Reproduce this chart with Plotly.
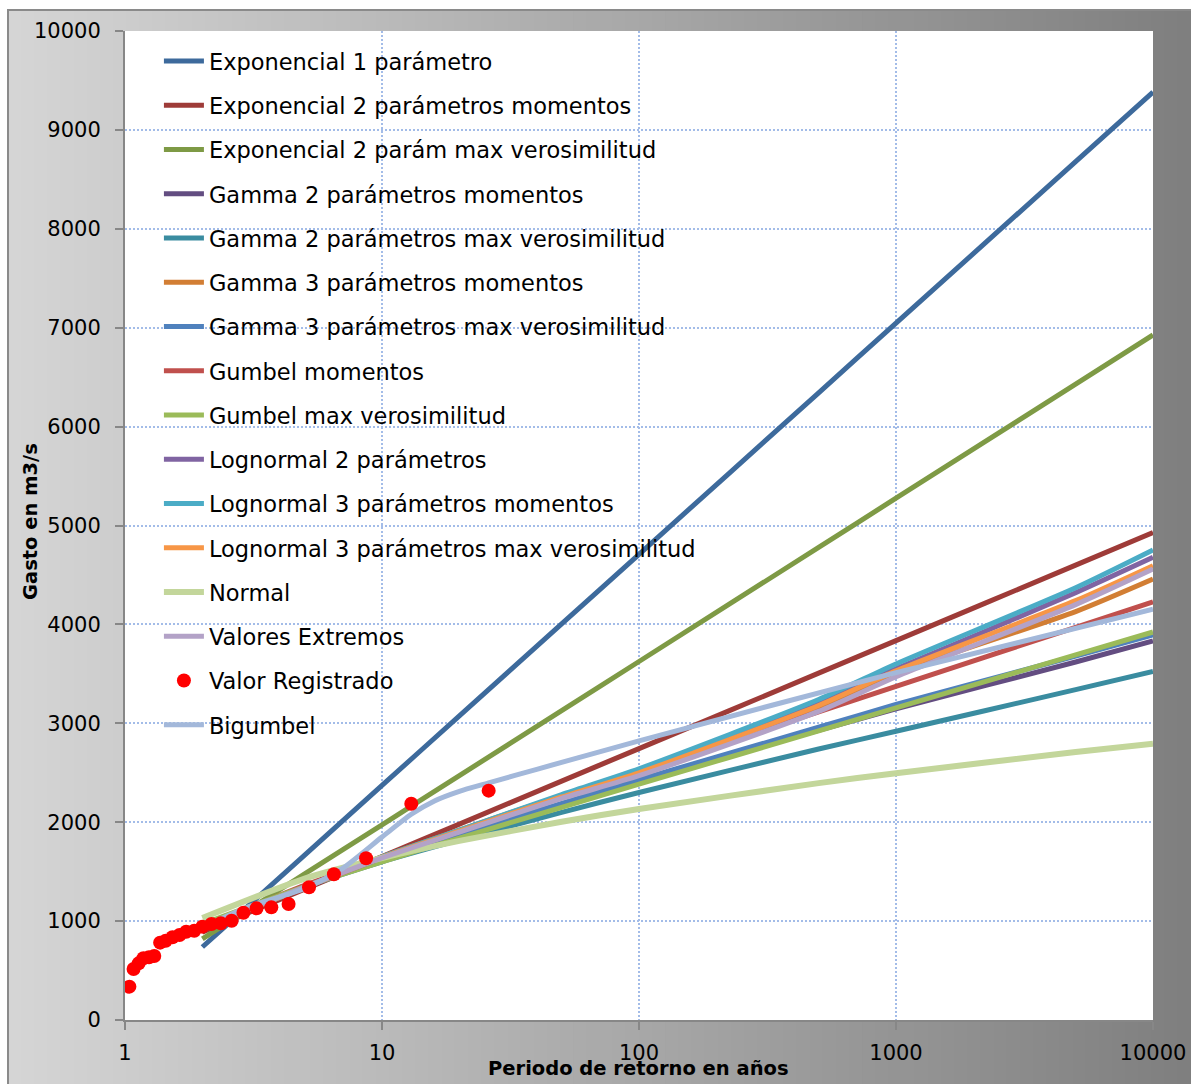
import plotly.graph_objects as go

# ---------------- data ----------------
T = [2, 5, 10, 20, 50, 100, 500, 1000, 5000, 10000]

exp1 = [738, 1668, 2372, 3075, 4005, 4709, 6342, 7046, 8679, 9383]
exp2_mom = [889, 1323, 1652, 1981, 2415, 2744, 3507, 3836, 4599, 4928]
exp2_mv = [820, 1477, 1974, 2471, 3128, 3625, 4779, 5276, 6430, 6927]
gam2_mom = [950, 1350, 1620, 1865, 2180, 2420, 2930, 3145, 3620, 3832]
gam2_mv = [955, 1345, 1600, 1820, 2100, 2300, 2740, 2920, 3340, 3524]
gam3_mom = [930, 1345, 1650, 1920, 2270, 2520, 3160, 3510, 4130, 4459]
gam3_mv = [945, 1350, 1625, 1870, 2190, 2430, 2960, 3190, 3680, 3893]
gum_mom = [939, 1361, 1640, 1908, 2255, 2515, 3115, 3373, 3971, 4229]
gum_mv = [971, 1350, 1600, 1840, 2151, 2385, 2923, 3155, 3692, 3923]
logn2 = [930, 1340, 1640, 1905, 2250, 2510, 3220, 3550, 4320, 4678]
logn3_mom = [925, 1340, 1650, 1920, 2280, 2540, 3240, 3600, 4370, 4752]
logn3_mv = [930, 1340, 1645, 1910, 2255, 2500, 3180, 3530, 4240, 4594]
normal = [1031, 1430, 1638, 1811, 2004, 2134, 2395, 2496, 2709, 2794]
val_ext = [935, 1345, 1640, 1900, 2240, 2470, 3120, 3470, 4200, 4560]

T_big = [2, 3, 5, 7, 10, 13, 16, 20, 26, 40, 100, 1000, 10000]
bigumbel = [940, 1140, 1330, 1530, 1850, 2080, 2215, 2312, 2397, 2535, 2822, 3512, 4153]

T_obs = [26, 13, 8.67, 6.5, 5.2, 4.33, 3.71, 3.25, 2.89, 2.6, 2.36, 2.17, 2.0,
         1.86, 1.73, 1.63, 1.53, 1.44, 1.37, 1.3, 1.24, 1.18, 1.13, 1.08, 1.04]
Q_obs = [2319, 2187, 1635, 1473, 1342, 1173, 1139, 1129, 1085, 1004, 978, 971, 944,
         903, 893, 859, 836, 802, 782, 647, 634, 624, 573, 516, 337]

x_ticks = [1, 10, 100, 1000, 10000]
x_ticktext = ["1", "10", "100", "1000", "10000"]

series = [
    ("Exponencial 1 parámetro", exp1, "#3D6A9C"),
    ("Exponencial 2 parámetros momentos", exp2_mom, "#9E3B38"),
    ("Exponencial 2 parám max verosimilitud", exp2_mv, "#7E9A45"),
    ("Gamma 2 parámetros momentos", gam2_mom, "#634D81"),
    ("Gamma 2 parámetros max verosimilitud", gam2_mv, "#3A8CA0"),
    ("Gamma 3 parámetros momentos", gam3_mom, "#D27E34"),
    ("Gamma 3 parámetros max verosimilitud", gam3_mv, "#4F81BD"),
    ("Gumbel momentos", gum_mom, "#C0504D"),
    ("Gumbel max verosimilitud", gum_mv, "#9BBB59"),
    ("Lognormal 2 parámetros", logn2, "#8064A2"),
    ("Lognormal 3 parámetros momentos", logn3_mom, "#4BACC6"),
    ("Lognormal 3 parámetros max verosimilitud", logn3_mv, "#F79646"),
    ("Normal", normal, "#C3D69B"),
    ("Valores Extremos", val_ext, "#B3A2C7"),
]

FONT = "DejaVu Sans"

fig = go.Figure()
rank = 1
for name, vals, col in series:
    w = 6 if name == "Normal" else 5
    fig.add_trace(go.Scatter(
        x=T, y=vals, name=name, mode="lines",
        line=dict(color=col, width=w, shape="spline", smoothing=0.6),
        legendgroup=name, legendrank=rank))
    rank += 1

fig.add_trace(go.Scatter(
    x=T_big, y=bigumbel, name="Bigumbel", mode="lines",
    line=dict(color="#A3B8DA", width=5, shape="spline", smoothing=0.7),
    legendgroup="Bigumbel", legendrank=rank + 1))

fig.add_trace(go.Scatter(
    x=T_obs, y=Q_obs, name="Valor Registrado", mode="markers",
    marker=dict(color="#FF0000", size=14, line=dict(width=0)),
    legendgroup="Valor Registrado", legendrank=rank))

# ---------------- background (gradient frame) ----------------
W, H = 1191, 1084
ml, mr, mt, mb = 125, 38, 31, 64
pw = W - ml - mr
ph = H - mt - mb


def px_to_paper_x(px):
    return (px - ml) / pw


def py_to_paper_y(py):
    return (H - mb - py) / ph


shapes = []
x_start, x_end = 8, W
n_strips = 90
step = (x_end - x_start) / n_strips
for i in range(n_strips):
    xa = x_start + i * step
    xb = xa + step + 1
    frac = (i + 0.5) / n_strips
    c = int(round(213 - 86 * frac))
    shapes.append(dict(type="rect", xref="paper", yref="paper",
                       x0=px_to_paper_x(xa), x1=px_to_paper_x(xb),
                       y0=py_to_paper_y(H + 2), y1=py_to_paper_y(10),
                       fillcolor=f"rgb({c},{c},{c})", line=dict(width=0),
                       layer="below"))
# outer frame border
shapes.append(dict(type="rect", xref="paper", yref="paper",
                   x0=px_to_paper_x(8), x1=px_to_paper_x(W + 5),
                   y0=py_to_paper_y(H + 5), y1=py_to_paper_y(10),
                   line=dict(color="#8A8A8A", width=2), fillcolor="rgba(0,0,0,0)",
                   layer="below"))
# white plotting area
shapes.append(dict(type="rect", xref="paper", yref="paper",
                   x0=0, x1=1, y0=0, y1=1, fillcolor="white",
                   line=dict(width=0), layer="below"))

grid_col = "#A3BCE8"

fig.update_layout(
    width=W, height=H,
    margin=dict(l=ml, r=mr, t=mt, b=mb, autoexpand=False),
    paper_bgcolor="white",
    plot_bgcolor="white",
    font=dict(family=FONT, color="black", size=21),
    shapes=shapes,
    showlegend=True,
    legend=dict(
        x=0.033, y=0.991, xanchor="left", yanchor="top",
        bgcolor="rgba(0,0,0,0)", borderwidth=0,
        font=dict(family=FONT, size=22.5, color="black"),
        tracegroupgap=12,
        itemwidth=40,
    ),
    annotations=[
        dict(text="<b>Gasto en m3/s</b>", xref="paper", yref="paper",
             x=px_to_paper_x(30), y=py_to_paper_y(522), textangle=-90,
             showarrow=False, font=dict(family=FONT, size=19.5, color="black"),
             xanchor="center", yanchor="middle"),
        dict(text="<b>Periodo de retorno en años</b>", xref="paper", yref="paper",
             x=px_to_paper_x(638), y=py_to_paper_y(1068),
             showarrow=False, font=dict(family=FONT, size=19.5, color="black"),
             xanchor="center", yanchor="middle"),
    ],
)

fig.update_xaxes(
    type="log", range=[0, 4],
    tickvals=x_ticks, ticktext=x_ticktext,
    showgrid=True, gridcolor=grid_col, gridwidth=1.5, griddash="2px,2px",
    showline=True, linecolor="#878787", linewidth=2,
    ticks="outside", ticklen=8, tickcolor="#878787", tickwidth=2,
    tickfont=dict(family=FONT, size=21, color="black"),
    ticklabelstandoff=5,
    zeroline=False,
)
fig.update_yaxes(
    range=[0, 10000], dtick=1000, tick0=0, tickformat="d",
    showgrid=True, gridcolor=grid_col, gridwidth=1.5, griddash="2px,2px",
    showline=True, linecolor="#878787", linewidth=2,
    ticks="outside", ticklen=8, tickcolor="#878787", tickwidth=2,
    tickfont=dict(family=FONT, size=21, color="black"),
    ticklabelstandoff=10,
    zeroline=False,
)

fig.write_html("out.html",
               config={"displayModeBar": False},
               post_script="document.body.style.margin='0';document.body.style.overflow='hidden';")
